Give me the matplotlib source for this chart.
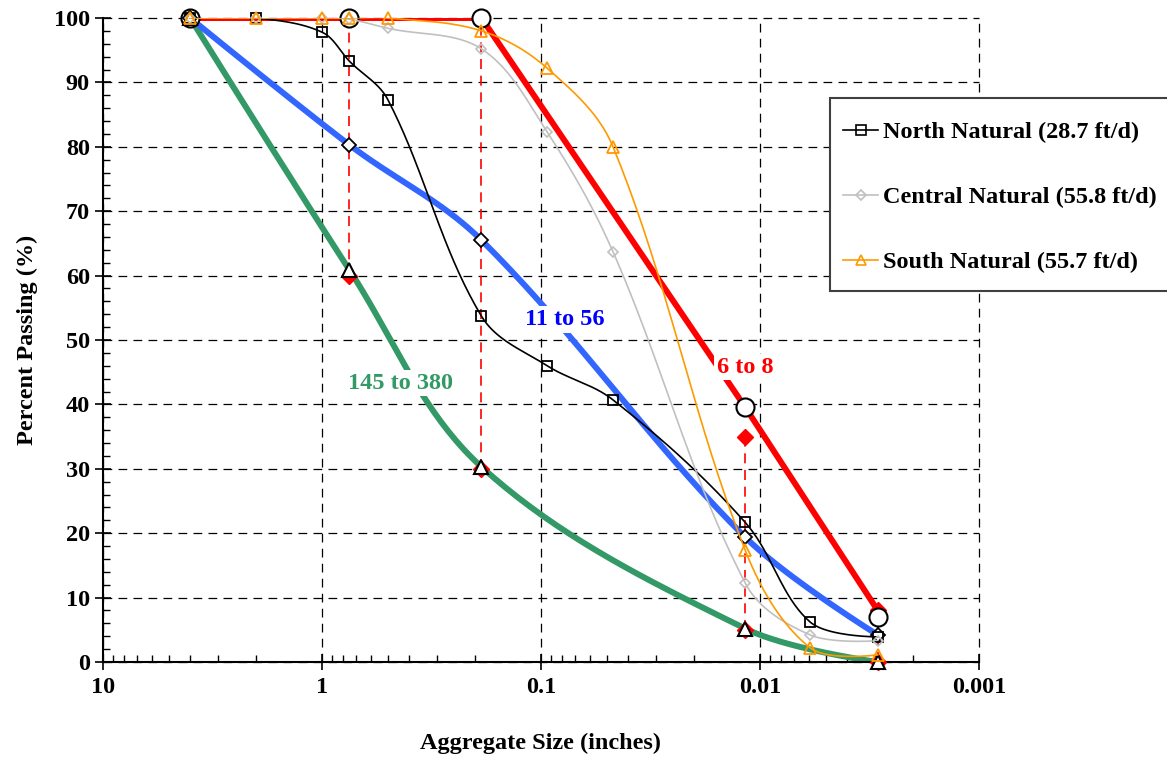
import numpy as np
import matplotlib
matplotlib.use('Agg')
import matplotlib.pyplot as plt
from matplotlib.patches import Rectangle
from matplotlib.ticker import FixedLocator, FixedFormatter, LogLocator, MultipleLocator

plt.rcParams['font.family'] = ['Liberation Serif', 'DejaVu Serif']
plt.rcParams['font.weight'] = 'bold'

#---- Sieve sizes (inches) and percent passing
sieveSizes = [4, 2, 1, 0.75, 0.5, 0.187, 0.0937, 0.0469, 0.0117, 0.0059, 0.0029]
northPassing = [100, 100, 97.8, 93.3, 87.3, 53.7, 46.0, 40.7, 21.7, 6.2, 3.9]
centralPassing = [100, 100, 100, 99.8, 98.4, 95.2, 82.3, 63.7, 12.3, 4.2, 3.3]
southPassing = [100, 100, 100, 100, 100, 98.0, 92.2, 80.0, 17.4, 2.2, 1.1]

seriesNames = ['North Natural (28.7 ft/d)', 'Central Natural (55.8 ft/d)', 'South Natural (55.7 ft/d)']

#---- Reference gradation bands
bandSizes = [4, 0.75, 0.187, 0.0117, 0.0029]
fineLine = [100, 100, 100, 39.6, 8]
fineMarkers = [100, 100, 100, 39.6, 7]
mediumLine = [100, 80.3, 65.5, 19.4, 4.2]
coarseLine = [100, 60.9, 30.3, 5.2, 0]
bandNames = ['6 to 8', '11 to 56', '145 to 380']

#---- Spec limits (red dashed)
specSizes = [0.75, 0.187, 0.0117, 0.0029]
specUpper = [100, 100, 35, 8]
specLower = [60, 30, 5, 0]

xTicks = [10, 1, 0.1, 0.01, 0.001]
xTickLabels = ['10', '1', '0.1', '0.01', '0.001']


def smoothCurve(xs, ys, tension=0.35, steps=40):
    # bezier smoothing, control points scaled by neighbouring segment lengths
    # done in screen-ish units (log x decade ~ 219px, 1% ~ 6.44px)
    sx, sy = 219.0, 6.44
    p = np.column_stack([np.log10(xs) * sx, np.asarray(ys, dtype=float) * sy])
    n = len(p)
    before = p.copy()
    after = p.copy()
    for i in range(1, n - 1):
        d01 = np.hypot(*(p[i] - p[i - 1]))
        d12 = np.hypot(*(p[i + 1] - p[i]))
        tot = d01 + d12
        if tot == 0:
            continue
        tang = p[i + 1] - p[i - 1]
        before[i] = p[i] - tension * d01 / tot * tang
        after[i] = p[i] + tension * d12 / tot * tang
    outX, outY = [], []
    t = np.linspace(0, 1, steps)[:, None]
    for i in range(n - 1):
        p1, b1, b2, p2 = p[i], after[i], before[i + 1], p[i + 1]
        seg = ((1 - t) ** 3) * p1 + 3 * ((1 - t) ** 2) * t * b1 + 3 * (1 - t) * t ** 2 * b2 + t ** 3 * p2
        outX.extend(seg[:, 0] / sx)
        outY.extend(seg[:, 1] / sy)
    return 10 ** np.array(outX), np.array(outY)


fig = plt.figure(figsize=(11.67, 7.59), dpi=100)
ax = fig.add_axes([103 / 1167, 1 - 662 / 759, (979 - 103) / 1167, (662 - 18) / 759])

#---- Thick band lines
gx, gy = smoothCurve(bandSizes, coarseLine)
ax.plot(gx, gy, color='#339966', lw=4.3, zorder=2, solid_capstyle='butt')
bx, by = smoothCurve(bandSizes, mediumLine)
ax.plot(bx, by, color='#3366FF', lw=4.3, zorder=2, solid_capstyle='butt')
ax.plot(bandSizes, fineLine, color='#FF0000', lw=4.3, zorder=2, solid_capstyle='butt')

#---- Spec limits
for s, lo, hi in zip(specSizes, specLower, specUpper):
    ax.plot([s, s], [lo, hi], color='#FF0000', lw=1.2, ls=(0, (6, 4)), zorder=3, clip_on=False)
ax.plot(specSizes, specUpper, ls='none', marker='D', ms=8.5, color='#FF0000', zorder=4, clip_on=False)
ax.plot(specSizes, specLower, ls='none', marker='D', ms=8.5, color='#FF0000', zorder=4, clip_on=False)

#---- Band markers
ax.plot(bandSizes, fineMarkers, ls='none', marker='o', ms=13, mfc='white', mec='black', mew=1.5, zorder=5, clip_on=False)
ax.plot(bandSizes, mediumLine, ls='none', marker='D', ms=7.5, mfc='white', mec='black', mew=1.3, zorder=5, clip_on=False)
ax.plot(bandSizes, coarseLine, ls='none', marker='^', ms=10.5, mfc='white', mec='black', mew=1.5, zorder=5, clip_on=False)

#---- Natural samples
nx, ny = smoothCurve(sieveSizes, northPassing)
ax.plot(nx, ny, color='black', lw=1.2, zorder=6)
ax.plot(sieveSizes, northPassing, ls='none', marker='s', ms=7.5, mfc='none', mec='black', mew=1.3, zorder=7, clip_on=False)
cx, cy = smoothCurve(sieveSizes, centralPassing)
ax.plot(cx, cy, color='#C0C0C0', lw=1.2, zorder=6)
ax.plot(sieveSizes, centralPassing, ls='none', marker='D', ms=5, mfc='none', mec='#C0C0C0', mew=1.2, zorder=7, clip_on=False)
sx, sy = smoothCurve(sieveSizes, southPassing)
ax.plot(sx, sy, color='#FF9900', lw=1.2, zorder=6)
ax.plot(sieveSizes, southPassing, ls='none', marker='^', ms=8, mfc='none', mec='#FF9900', mew=1.3, zorder=7, clip_on=False)

#---- Legend (frame drawn separately so it can run off the right edge)
legBox = Rectangle((830 / 1167, 1 - 291 / 759), 400 / 1167, (291 - 98) / 759, transform=fig.transFigure,
                   facecolor='white', edgecolor='#404040', lw=1.5, zorder=9)
fig.patches.append(legBox)
h1, = ax.plot([], [], color='black', lw=1.2, marker='s', ms=7, mfc='none', mec='black', mew=1.2)
h2, = ax.plot([], [], color='#C0C0C0', lw=1.2, marker='D', ms=5, mfc='none', mec='#C0C0C0', mew=1.2)
h3, = ax.plot([], [], color='#FF9900', lw=1.2, marker='^', ms=7, mfc='none', mec='#FF9900', mew=1.2)
leg = fig.legend([h1, h2, h3], seriesNames, loc='upper left', bbox_to_anchor=(820 / 1167, 1 - 98 / 759),
                 prop={'family': 'Liberation Serif', 'weight': 'bold', 'size': 17.5},
                 frameon=False, handlelength=1.45, handletextpad=0.2, labelspacing=1.77,
                 borderpad=0.95, borderaxespad=0)
leg.set_zorder(10)

#---- Band labels
labelFont = dict(fontsize=17.5, fontweight='bold', ha='center', va='center', zorder=8,
                 bbox=dict(facecolor='white', edgecolor='none', pad=2))
ax.text(0.0117, 45.8, bandNames[0], color='#FF0000', **labelFont)
ax.text(0.0777, 53.2, bandNames[1], color='#0000FF', **labelFont)
ax.text(0.44, 43.3, bandNames[2], color='#339966', **labelFont)

#---- Axes
ax.set_xscale('log')
ax.set_xlim(10, 0.001)
ax.set_ylim(0, 100)
ax.xaxis.set_major_locator(FixedLocator(xTicks))
ax.xaxis.set_major_formatter(FixedFormatter(xTickLabels))
ax.xaxis.set_minor_locator(LogLocator(base=10, subs=np.arange(2, 10)))
ax.xaxis.set_minor_formatter(FixedFormatter([]))
ax.yaxis.set_major_locator(MultipleLocator(10))
ax.yaxis.set_minor_locator(MultipleLocator(2))

ax.grid(True, which='major', color='black', lw=0.9, ls=(0, (7, 5)))
ax.set_axisbelow(True)
ax.spines['top'].set_visible(False)
ax.spines['right'].set_visible(False)
ax.spines['left'].set_linewidth(1.5)
ax.spines['bottom'].set_linewidth(1.5)

ax.tick_params(axis='x', which='major', direction='inout', length=12, width=1.2, pad=5, labelsize=17.5)
ax.tick_params(axis='x', which='minor', direction='in', length=5, width=1.0)
ax.tick_params(axis='y', which='major', direction='inout', length=11, width=1.2, pad=4, labelsize=17.5)
ax.tick_params(axis='y', which='minor', direction='in', length=5, width=1.0)
for lab in ax.get_xticklabels() + ax.get_yticklabels():
    lab.set_fontweight('bold')
for gl in ax.get_xgridlines() + ax.get_ygridlines():
    gl.set_clip_on(False)

ax.set_xlabel('Aggregate Size (inches)', fontsize=17.5, fontweight='bold', labelpad=25)
ax.set_ylabel('Percent Passing (%)', fontsize=17.5, fontweight='bold', labelpad=11)

fig.savefig('out.png', dpi=100)
